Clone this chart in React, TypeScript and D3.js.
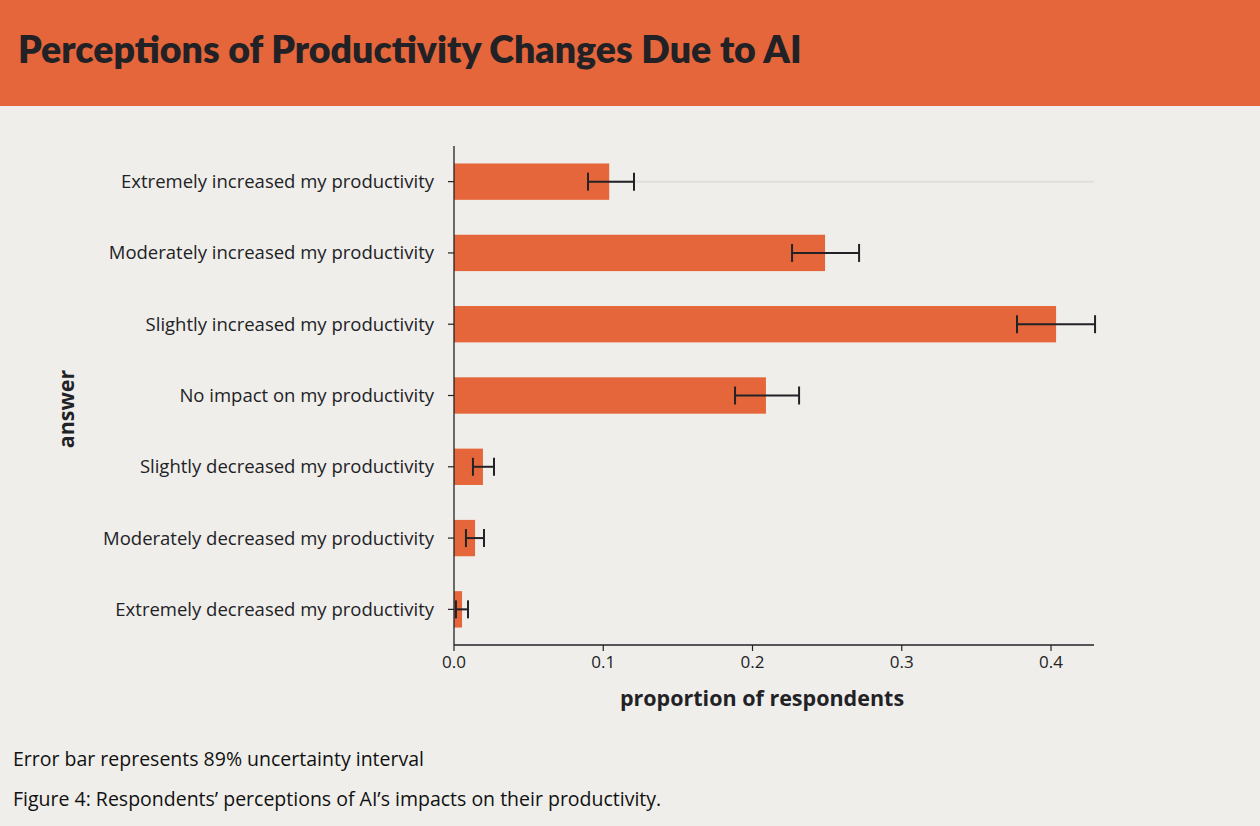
import React from "react";
import * as d3 from "d3";

const categories = [
  "Extremely increased my productivity",
  "Moderately increased my productivity",
  "Slightly increased my productivity",
  "No impact on my productivity",
  "Slightly decreased my productivity",
  "Moderately decreased my productivity",
  "Extremely decreased my productivity",
];
const values = [0.104, 0.2486, 0.4034, 0.209, 0.0194, 0.0141, 0.0054];
const lower = [0.0898, 0.2265, 0.3772, 0.1883, 0.0127, 0.008, 0.0013];
const upper = [0.1206, 0.2714, 0.4295, 0.2312, 0.0268, 0.0201, 0.0094];
const xTicks = [0, 0.1, 0.2, 0.3, 0.4];

const W = 1260;
const H = 826;
const ORANGE = "#E5663A";
const BG = "#EFEEEA";
const DARK = "#222226";
const TFONT = "Lato, sans-serif";
const FONT = "'Open Sans', sans-serif";

export default function App() {
  const x = d3.scaleLinear().domain([0, 0.4288]).range([454, 1094]);
  const y = d3.scaleBand().domain(categories).range([146, 645]).paddingInner(0.49).paddingOuter(0.245);
  const bh = y.bandwidth();
  const cap = 18;
  return (
    <svg width={W} height={H} style={{ position: "absolute", left: 0, top: 0, display: "block" }}>
      <rect x={0} y={0} width={W} height={H} fill={BG} />
      <rect x={0} y={0} width={W} height={106} fill={ORANGE} />
      <text x={18} y={63} fontFamily={TFONT} fontWeight={800} fontSize={37.5} fill={DARK}>
        Perceptions of Productivity Changes Due to AI
      </text>
      <line x1={x(0)} x2={x(0.4288)} y1={(y(categories[0]) ?? 0) + bh / 2} y2={(y(categories[0]) ?? 0) + bh / 2} stroke="#E0DFDB" strokeWidth={2} />
      {categories.map((c, i) => {
        const yy = y(c) ?? 0;
        const cy = yy + bh / 2;
        return (
          <g key={c}>
            <rect x={x(0)} y={yy} width={x(values[i]) - x(0)} height={bh} fill={ORANGE} />
            <line x1={x(lower[i])} x2={x(upper[i])} y1={cy} y2={cy} stroke={DARK} strokeWidth={2} />
            <line x1={x(lower[i])} x2={x(lower[i])} y1={cy - cap / 2} y2={cy + cap / 2} stroke={DARK} strokeWidth={2} />
            <line x1={x(upper[i])} x2={x(upper[i])} y1={cy - cap / 2} y2={cy + cap / 2} stroke={DARK} strokeWidth={2} />
            <line x1={448} x2={454} y1={cy} y2={cy} stroke={DARK} strokeWidth={1.2} />
            <text x={434} y={cy} dy="0.35em" textAnchor="end" fontFamily={FONT} fontSize={18.5} fill={DARK}>
              {c}
            </text>
          </g>
        );
      })}
      <line x1={454} x2={454} y1={146} y2={645} stroke={DARK} strokeWidth={1.3} />
      <line x1={454} x2={1094} y1={645} y2={645} stroke={DARK} strokeWidth={1.3} />
      {xTicks.map((t) => (
        <g key={t}>
          <line x1={x(t)} x2={x(t)} y1={645} y2={651} stroke={DARK} strokeWidth={1.2} />
          <text x={x(t)} y={668} textAnchor="middle" fontFamily={FONT} fontSize={17} fill={DARK}>
            {t.toFixed(1)}
          </text>
        </g>
      ))}
      <text x={762} y={706} textAnchor="middle" fontFamily={FONT} fontWeight={700} fontSize={21.5} fill={DARK}>
        proportion of respondents
      </text>
      <text transform="translate(74,409) rotate(-90)" textAnchor="middle" fontFamily={FONT} fontWeight={700} fontSize={21.5} fill={DARK}>
        answer
      </text>
      <text x={13} y={766} fontFamily={FONT} fontSize={19.5} fill="#111">
        Error bar represents 89% uncertainty interval
      </text>
      <text x={13} y={806} fontFamily={FONT} fontSize={19.5} fill="#111">
        Figure 4: Respondents’ perceptions of AI’s impacts on their productivity.
      </text>
    </svg>
  );
}
